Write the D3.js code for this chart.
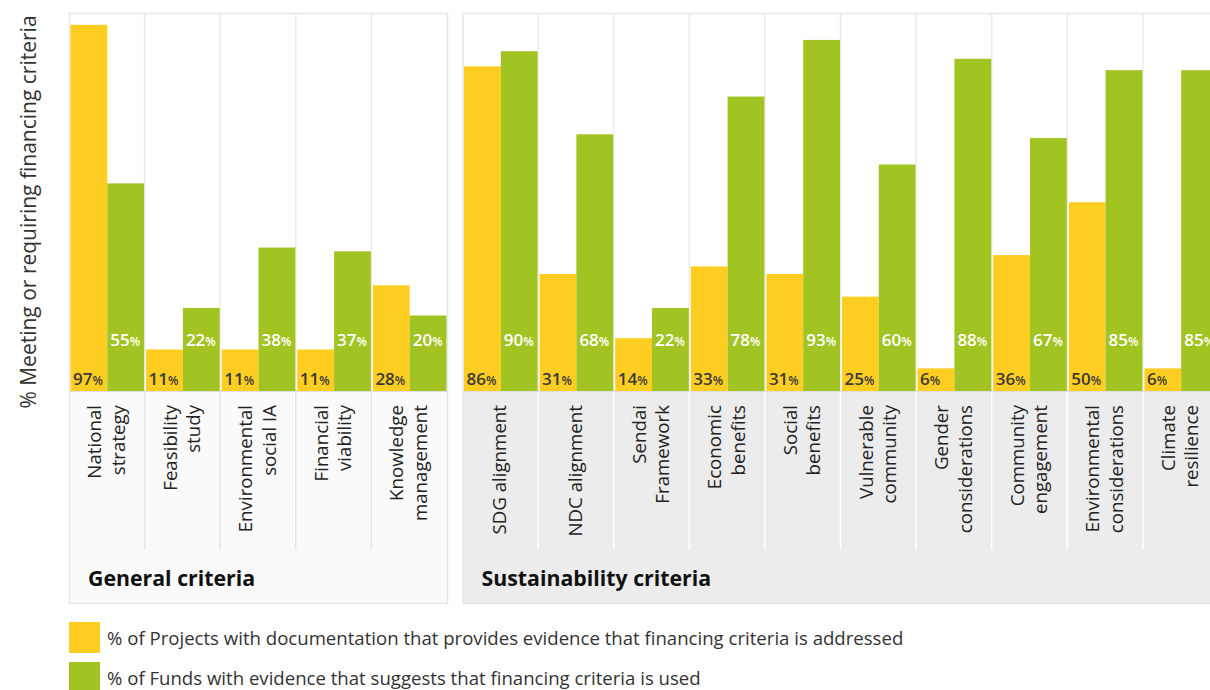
<!DOCTYPE html>
<html>
<head>
<meta charset="utf-8">
<script src="https://cdn.jsdelivr.net/npm/d3@7"></script>
<style>
  html, body { margin: 0; padding: 0; background: #fff; overflow: hidden; }
  svg { display: block; font-family: "Open Sans", sans-serif; }
</style>
</head>
<body>
<svg id="chart" width="1210" height="690"></svg>
<script>
// ---- data ----
const generalCategories = ["National\nstrategy", "Feasibility\nstudy", "Environmental\nsocial IA", "Financial\nviability", "Knowledge\nmanagement"];
const generalProjects = [97, 11, 11, 11, 28];
const generalFunds = [55, 22, 38, 37, 20];

const sustainCategories = ["SDG alignment", "NDC alignment", "Sendai\nFramework", "Economic\nbenefits", "Social\nbenefits", "Vulnerable\ncommunity", "Gender\nconsiderations", "Community\nengagement", "Environmental\nconsiderations", "Climate\nresilience"];
const sustainProjects = [86, 31, 14, 33, 31, 25, 6, 36, 50, 6];
const sustainFunds = [90, 68, 22, 78, 93, 60, 88, 67, 85, 85];

const seriesNames = ["% of Projects with documentation that provides evidence that financing criteria is addressed",
                     "% of Funds with evidence that suggests that financing criteria is used"];
const panelTitles = ["General criteria", "Sustainability criteria"];
const yAxisTitle = "% Meeting or requiring financing criteria";

// ---- layout ----
const colors = ["#FDCD22", "#A2C423"];
const bandW = 75.6;
const plotTop = 13.5, baseY = 391, panelBottom = 603.5, dividerBottom = 550;
const y = d3.scaleLinear().domain([0, 100]).range([baseY, plotTop]);

const svg = d3.select("#chart");

const panels = [
  { cats: generalCategories, proj: generalProjects, funds: generalFunds, x0: 69.5, title: panelTitles[0], labelFill: "#fafafa", border: "#e6e6e6", divLabel: "#e6e6e6" },
  { cats: sustainCategories, proj: sustainProjects, funds: sustainFunds, x0: 463, title: panelTitles[1], labelFill: "#ececec", border: "#e6e6e6", divLabel: "#ffffff" }
];

panels.forEach(p => {
  const x1 = p.x0 + bandW * p.cats.length;
  const x = d3.scaleBand().domain(p.cats).range([p.x0, x1]).padding(0);
  const inner = d3.scaleBand().domain([0, 1]).range([1, x.bandwidth() - 1]).padding(0);
  const g = svg.append("g");

  g.append("rect").attr("x", p.x0).attr("y", baseY).attr("width", x1 - p.x0).attr("height", panelBottom - baseY)
    .attr("fill", p.labelFill);
  g.append("rect").attr("x", p.x0).attr("y", plotTop).attr("width", x1 - p.x0).attr("height", panelBottom - plotTop)
    .attr("fill", "none").attr("stroke", p.border).attr("stroke-width", 1.5);

  const bounds = p.cats.slice(1).map(c => x(c));
  g.selectAll(".divp").data(bounds).join("line")
    .attr("x1", d => d - 0.5).attr("x2", d => d - 0.5).attr("y1", plotTop).attr("y2", baseY)
    .attr("stroke", "#ebebeb").attr("stroke-width", 1.5);
  g.selectAll(".divl").data(bounds).join("line")
    .attr("x1", d => d - 0.5).attr("x2", d => d - 0.5).attr("y1", baseY).attr("y2", dividerBottom)
    .attr("stroke", p.divLabel).attr("stroke-width", 1.5);

  g.append("line").attr("x1", p.x0).attr("x2", x1).attr("y1", baseY + 0.5).attr("y2", baseY + 0.5)
    .attr("stroke", "#dedede").attr("stroke-width", 1);

  const rows = p.cats.map((c, i) => ({ c, vals: [p.proj[i], p.funds[i]] }));
  const grp = g.selectAll(".grp").data(rows).join("g").attr("transform", d => `translate(${x(d.c)},0)`);
  grp.selectAll("rect").data(d => d.vals.map((v, k) => ({ v, k }))).join("rect")
    .attr("x", d => inner(d.k)).attr("width", inner.bandwidth())
    .attr("y", d => y(d.v)).attr("height", d => y(0) - y(d.v))
    .attr("fill", d => colors[d.k]);

  const vl = grp.selectAll("text.val").data(d => d.vals.map((v, k) => ({ v, k }))).join("text")
    .attr("class", "val")
    .attr("x", d => inner(d.k) + (d.k === 0 ? 2.5 : 3))
    .attr("y", d => d.k === 0 ? 385 : 346)
    .attr("fill", d => d.k === 0 ? "#3a3a3a" : "#ffffff")
    .attr("font-weight", 600);
  vl.append("tspan").attr("font-size", 17).text(d => d.v);
  vl.append("tspan").attr("font-size", 12).text("%");

  grp.each(function(d) {
    const lines = d.c.split("\n");
    const cx = x.bandwidth() / 2 - 1;
    const t = d3.select(this).append("text")
      .attr("transform", `translate(${cx},405) rotate(-90)`)
      .attr("text-anchor", "end")
      .attr("font-size", 18.7)
      .attr("fill", "#222");
    lines.forEach((ln, i) => {
      t.append("tspan").attr("x", 0)
        .attr("y", (i - (lines.length - 1) / 2) * 23.5)
        .attr("dy", "0.35em")
        .text(ln);
    });
  });

  g.append("text").attr("x", p.x0 + 18.5).attr("y", 586)
    .attr("font-size", 21.3).attr("font-weight", 700).attr("fill", "#111")
    .text(p.title);
});

svg.append("text")
  .attr("transform", "translate(28,212) rotate(-90)")
  .attr("text-anchor", "middle").attr("dominant-baseline", "central")
  .attr("font-size", 21).attr("fill", "#333")
  .text(yAxisTitle);

const leg = svg.selectAll(".leg").data(seriesNames).join("g")
  .attr("transform", (d, i) => `translate(69,${622 + i * 40})`);
leg.append("rect").attr("width", 31).attr("height", 31).attr("fill", (d, i) => colors[i]);
leg.append("text").attr("x", 38).attr("y", 23).attr("font-size", 18.6).attr("fill", "#333").text(d => d);
</script>
</body>
</html>
